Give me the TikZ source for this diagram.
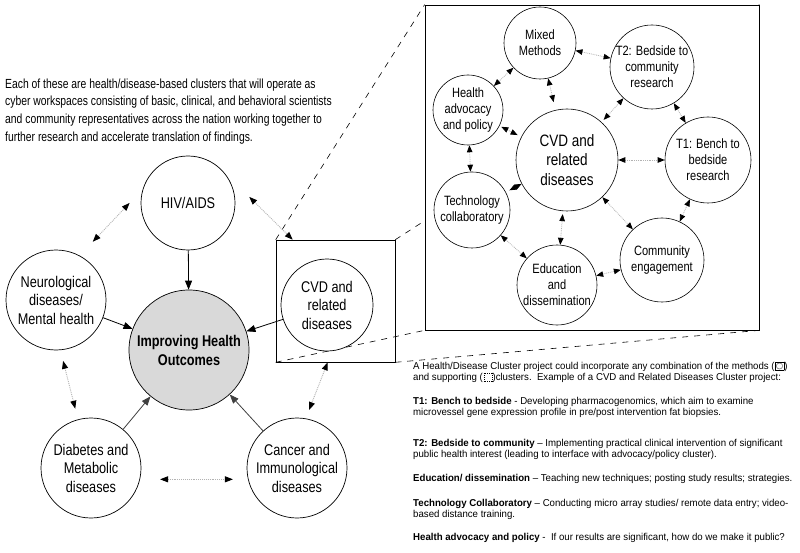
\documentclass[tikz,border=0pt]{standalone}
\usepackage{fontspec}
\setmainfont{Liberation Sans}[FakeStretch=0.965]
\newfontfamily\nodefont{Liberation Sans}[FakeStretch=0.82]
\newfontfamily\introfont{Liberation Sans}[FakeStretch=0.785]
\usetikzlibrary{arrows.meta,calc,backgrounds}
\newcommand\mymeth{\kern0.8pt\raisebox{-1pt}{\setlength\unitlength{1pt}\linethickness{0.5pt}\begin{picture}(8,8)\put(0,0){\framebox(8,8){}}\put(4,4){\circle{6}}\put(1,1){\line(1,1){6}}\put(1,7){\line(1,-1){6}}\end{picture}}\kern0.8pt}
\newcommand\mysup{\kern0.8pt\raisebox{-1pt}{\setlength\unitlength{1pt}\begin{picture}(8,8)\put(0,0){\dashbox{1}(8,8){}}\end{picture}}\kern0.8pt}
\begin{document}
\begin{tikzpicture}[x=1pt,y=-1pt,
  main/.style={circle,draw,line width=0.7pt,fill=white,inner sep=0pt,align=center,font=\nodefont\fontsize{15.5}{18.5}\selectfont},
  sub/.style={circle,draw,line width=0.6pt,fill=white,inner sep=0pt,align=center,font=\nodefont\fontsize{13.5}{16}\selectfont},
  solidarr/.style={-{Triangle[length=9pt,width=7pt]},line width=0.8pt},
  dlink/.style={{Triangle[color=black,length=8pt,width=6pt]}-{Triangle[color=black,length=8pt,width=6pt]},draw=black!30,densely dotted,line width=0.9pt},
  slink/.style={{Triangle[color=black,length=7pt,width=5.5pt]}-{Triangle[color=black,length=7pt,width=5.5pt]},draw=black!30,densely dotted,line width=0.8pt},
  zoomline/.style={dash pattern=on 6pt off 6pt,line width=0.6pt},
  para/.style={anchor=north west,align=left,inner sep=0pt,font=\fontsize{10}{11}\selectfont},
]
\useasboundingbox (0,0) rectangle (800,553);

% intro text
\node[anchor=north west,align=left,inner sep=0pt,font=\introfont\fontsize{13.2}{17.7}\selectfont] (intro) at (5,78.5)
 {Each of these are health/disease-based clusters that will operate as\\
  cyber workspaces consisting of basic, clinical, and behavioral scientists\\
  and community representatives across the nation working together to\\
  further research and accelerate translation of findings.};

% left cluster
\node[draw,line width=0.6pt,minimum width=119,minimum height=122,inner sep=0pt] (zbox) at (335.5,301) {};
\node[main,minimum size=94] (hiv) at (188,203) {HIV/AIDS};
\node[main,minimum size=100] (neuro) at (56,300) {Neurological\\diseases/\\Mental health};
\node[main,minimum size=120,fill=black!15,font=\nodefont\bfseries\fontsize{15.5}{19}\selectfont] (imp) at (189,350) {Improving Health\\Outcomes};
\node[main,minimum size=92] (cvd) at (327,305) {CVD and\\related\\diseases};
\node[main,minimum size=100] (diab) at (91,468) {Diabetes and\\Metabolic\\diseases};
\node[main,minimum size=100] (canc) at (297,468) {Cancer and\\Immunological\\diseases};

\draw[solidarr] (hiv) -- (imp);
\draw[solidarr] (neuro) -- (imp);
\draw[solidarr] (cvd) -- (imp);
\draw[solidarr,draw=black!75] (diab) -- (imp);
\draw[solidarr,draw=black!75] (canc) -- (imp);

\draw[dlink,shorten <=19pt,shorten >=19pt] (hiv.163) -- (neuro.62);
\draw[dlink,shorten <=39pt] (hiv.45) -- ($(zbox.north west)+(17,0)$);
\draw[dlink,shorten <=11pt,shorten >=11pt] (neuro.-85) -- (diab.105);
\draw[dlink,shorten <=20pt,shorten >=15pt] (diab.-13) -- (canc.193);
\draw[dlink,shorten >=9pt] ($(zbox.south west)+(52,0)$) -- (canc.80);

% zoomed panel
\node[draw,fill=white,line width=0.7pt,minimum width=334,minimum height=325,inner sep=0pt] (bbox) at (592,167.5) {};

\begin{scope}[on background layer]
\fill[white] (0,0) rectangle (800,553);
\draw[zoomline] (zbox.north west) -- (bbox.north west);
\draw[zoomline] (zbox.north east) -- (bbox.north east);
\draw[zoomline] (zbox.south west) -- (bbox.south west);
\draw[zoomline] (zbox.south east) -- (bbox.south east);
\end{scope}

\node[sub,minimum size=72] (mixed) at (540,43) {Mixed\\Methods};
\node[sub,minimum size=84] (t2) at (652,67) {T2: Bedside to\\community\\research};
\node[sub,minimum size=70] (adv) at (468,110) {Health\\advocacy\\and policy};
\node[sub,minimum size=102,font=\nodefont\fontsize{16.5}{19.5}\selectfont] (cvdb) at (567,160) {CVD and\\related\\diseases};
\node[sub,minimum size=86] (t1) at (708,160) {T1: Bench to\\bedside\\research};
\node[sub,minimum size=76] (tech) at (472,210) {Technology\\collaboratory};
\node[sub,minimum size=80] (edu) at (557,285) {Education\\and\\dissemination};
\node[sub,minimum size=84] (comm) at (662,260) {Community\\engagement};

\draw[slink] (mixed) -- (adv);
\draw[slink] (mixed) -- (t2);
\draw[slink,shorten >=8pt] (mixed) -- (cvdb);
\draw[slink,shorten >=3pt] (t2) -- (cvdb);
\draw[slink] (t2) -- (t1);
\draw[slink,shorten <=2pt,shorten >=4pt] (adv) -- (cvdb);
\draw[slink] (adv) -- (tech);
\draw[slink] (cvdb) -- (t1);
\draw[slink,shorten >=4pt] (cvdb) -- (tech);
\draw[slink,shorten <=3pt] (cvdb) -- (edu);
\draw[slink] (cvdb) -- (comm);
\draw[slink] (t1) -- (comm);
\draw[slink] (tech) -- (edu);
\draw[slink] (edu) -- (comm);

% explanatory text
\node[para] (p1) at (413,362) {A Health/Disease Cluster project could incorporate any combination of the methods (\mymeth)\\
  and supporting (\mysup)clusters.\ \ Example of a CVD and Related Diseases Cluster project:};
\node[para] (p2) at (413,397) {\textbf{T1: Bench to bedside} - Developing pharmacogenomics, which aim to examine\\
  microvessel gene expression profile in pre/post intervention fat biopsies.};
\node[para] (p3) at (413,439) {\textbf{T2: Bedside to community} -- Implementing practical clinical intervention of significant\\
  public health interest (leading to interface with advocacy/policy cluster).};
\node[para] (p4) at (413,474) {\textbf{Education/ dissemination} -- Teaching new techniques; posting study results; strategies.};
\node[para] (p5) at (413,499) {\textbf{Technology Collaboratory} -- Conducting micro array studies/ remote data entry; video-\\
  based distance training.};
\node[para] (p6) at (413,533) {\textbf{Health advocacy and policy} -\ \ If our results are significant, how do we make it public?};
\end{tikzpicture}
\end{document}
